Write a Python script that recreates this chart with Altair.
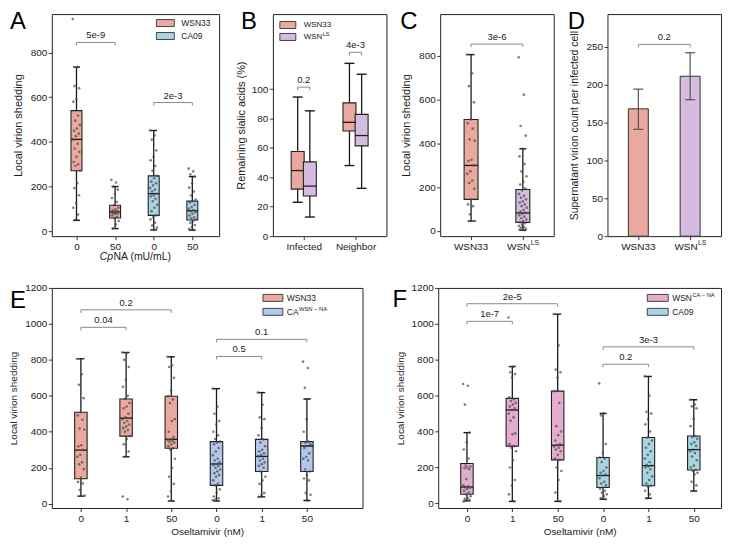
import json
import altair as alt
import pandas as pd

FONT = "Liberation Sans"
INK = "#1a1a1a"
COL = {"WSN33": "#E9A99E", "CA09": "#A9D4E4", "WSNLS": "#D6BBE0",
       "CAWSN": "#B4C7EB", "WSNCA": "#E5ADCD"}

# ---------------- Panel A ----------------
A_labels = ["0", "50", "0", "50"]
A_series = ["WSN33", "WSN33", "CA09", "CA09"]
A_lo = [49, 12, 6, 5]
A_q1 = [271, 59, 71, 50]
A_med = [411, 87, 168, 92]
A_q3 = [540, 116, 248, 135]
A_hi = [735, 200, 451, 245]
A_wsn_0 = [950, 735, 650, 640, 592, 580, 518, 495, 476, 460, 450, 437, 425, 411, 392,
           370, 355, 333, 310, 300, 293, 271, 215, 193, 161, 127, 105, 75, 49]
A_wsn_50 = [230, 218, 200, 186, 168, 149, 131, 116, 105, 98, 94, 90, 87, 85, 83, 82,
            80, 78, 72, 65, 59, 46, 31, 12]
A_ca_0 = [451, 429, 410, 362, 333, 318, 292, 271, 248, 237, 222, 215, 205, 193, 186,
          178, 168, 160, 156, 145, 134, 119, 105, 90, 71, 62, 53, 38, 26, 16, 6]
A_ca_50 = [280, 268, 255, 245, 215, 195, 178, 160, 142, 135, 128, 118, 108, 100, 95,
           90, 85, 78, 70, 62, 58, 52, 45, 38, 28, 18, 10, 5]
A_sig_from = [0, 2]
A_sig_to = [1, 3]
A_sig_y = [845, 576]
A_sig_text = ["5e-9", "2e-3"]

# ---------------- Panel B ----------------
B_groups = ["Infected", "Neighbor"]
B_wsn_lo = [23, 48]
B_wsn_q1 = [32, 71.5]
B_wsn_med = [44.6, 77.4]
B_wsn_q3 = [57.6, 90.6]
B_wsn_hi = [94.6, 117.5]
B_ls_lo = [13, 32.5]
B_ls_q1 = [27.3, 61.4]
B_ls_med = [34, 68.4]
B_ls_q3 = [50.5, 82.8]
B_ls_hi = [85.2, 110.1]
B_sig_y = [101.3, 125]
B_sig_text = ["0.2", "4e-3"]

# ---------------- Panel C ----------------
C_labels = ["WSN33", "WSN"]
C_sup = ["", "LS"]
C_lo = [45, 3]
C_q1 = [144, 39]
C_med = [299, 82]
C_q3 = [509, 189]
C_hi = [805, 375]
C_wsn = [805, 720, 661, 587, 509, 491, 467, 418, 412, 325, 319, 299, 272, 261, 230,
         219, 192, 144, 121, 113, 76, 45]
C_ls = [793, 622, 479, 435, 375, 340, 305, 272, 249, 224, 212, 195, 185, 169, 160, 151,
        144, 135, 129, 121, 113, 106, 95, 88, 82, 78, 71, 65, 58, 52, 45, 39, 35, 29,
        23, 18, 15, 10, 8, 5, 3]
C_sig_y = [853]
C_sig_text = ["3e-6"]

# ---------------- Panel D ----------------
D_vals = [168, 211]
D_err_lo = [141, 180]
D_err_hi = [194, 242]
D_sig_y = [253]
D_sig_text = ["0.2"]

# ---------------- Panel E ----------------
E_labels = ["0", "1", "50", "0", "1", "50"]
E_series = ["WSN33"] * 3 + ["CAWSN"] * 3
E_lo = [42, 261, 15, 15, 38, 18]
E_q1 = [139, 376, 308, 102, 179, 179]
E_med = [298, 476, 358, 221, 263, 321]
E_q3 = [509, 582, 598, 345, 358, 345]
E_hi = [806, 841, 817, 640, 618, 582]
E_wsn_0 = [805, 720, 661, 587, 509, 491, 467, 418, 412, 325, 319, 299, 272, 261, 230,
           219, 192, 144, 121, 113, 76, 45]
E_wsn_1 = [841, 838, 800, 760, 690, 650, 600, 582, 560, 540, 530, 500, 480, 470, 460,
           450, 440, 430, 420, 410, 400, 376, 360, 330, 290, 261, 40, 25]
E_wsn_50 = [817, 770, 760, 700, 630, 598, 580, 560, 470, 460, 400, 370, 358, 355, 350,
            345, 340, 330, 320, 308, 300, 250, 200, 150, 110, 70, 40, 15]
E_ca_0 = [640, 540, 500, 460, 440, 400, 380, 360, 345, 340, 330, 310, 290, 270, 250, 240,
          230, 221, 215, 210, 200, 190, 180, 170, 160, 150, 130, 110, 102, 80, 60, 40,
          30, 25, 20, 15]
E_ca_1 = [618, 550, 480, 470, 420, 380, 358, 340, 320, 300, 290, 280, 270, 263, 250, 240,
          230, 220, 210, 200, 179, 150, 130, 110, 60, 50, 38]
E_ca_50 = [790, 755, 645, 582, 470, 400, 345, 340, 330, 321, 310, 280, 260, 250, 240, 190,
           179, 160, 140, 130, 60, 50, 18]
E_sig_from = [0, 0, 3, 3]
E_sig_to = [1, 2, 4, 5]
E_sig_y = [981, 1078, 819, 914]
E_sig_text = ["0.04", "0.2", "0.5", "0.1"]

# ---------------- Panel F ----------------
F_labels = ["0", "1", "50", "0", "1", "50"]
F_series = ["WSNCA"] * 3 + ["CA09"] * 3
F_lo = [14, 11, 11, 23, 28, 69]
F_q1 = [51, 319, 242, 88, 98, 186]
F_med = [91, 520, 324, 155, 210, 299]
F_q3 = [222, 585, 625, 255, 367, 375]
F_hi = [394, 762, 1054, 501, 707, 577]
F_wsnca_0 = [665, 655, 550, 394, 340, 300, 250, 210, 205, 200, 195, 190, 135, 100, 95, 90,
             85, 80, 70, 60, 51, 40, 30, 25, 20, 15, 10]
F_wsnca_1 = [1035, 762, 730, 720, 700, 590, 580, 570, 560, 550, 540, 530, 520, 500, 480,
             460, 390, 385, 330, 319, 310, 290, 240, 200, 130, 100, 50, 11]
F_wsnca_50 = [1054, 880, 745, 730, 700, 625, 560, 430, 400, 380, 350, 330, 324, 315, 310,
              300, 290, 270, 250, 242, 200, 180, 130, 60, 11]
F_ca_0 = [668, 501, 490, 330, 280, 255, 250, 230, 200, 180, 170, 160, 155, 140, 120, 110,
          100, 88, 80, 70, 60, 50, 40, 30, 23]
F_ca_1 = [707, 600, 510, 500, 470, 440, 400, 367, 350, 330, 310, 290, 270, 250, 230, 215,
          210, 205, 200, 190, 170, 150, 130, 110, 98, 90, 70, 50, 28]
F_ca_50 = [577, 550, 540, 530, 470, 430, 375, 370, 360, 340, 330, 320, 299, 290, 280, 260,
           240, 210, 200, 186, 180, 170, 160, 120, 100, 69]
F_sig_from = [0, 0, 3, 3]
F_sig_to = [1, 2, 4, 5]
F_sig_y = [1014, 1112, 775, 872]
F_sig_text = ["1e-7", "2e-5", "0.2", "3e-3"]

# ---------------- helpers ----------------
ONE = pd.DataFrame({"k": [0]})
AW = {"W": 944, "S": 667, "N": 722, "C": 722, "A": 667, "L": 556, " ": 278,
      "\u2212": 584, "-": 333}


def tw(s, fs):
    return sum(AW.get(c, 556) for c in s) / 1000.0 * fs


def txt(s, x, y, fs, align="left", baseline="middle", style=None, color=INK):
    kw = dict(text=s, fontSize=fs, align=align, baseline=baseline, font=FONT, color=color)
    if style:
        kw["fontStyle"] = style
    return alt.Chart(ONE).mark_text(**kw).encode(x=alt.value(x), y=alt.value(y))


def legend(entries, rx0, rx1, tx, ys, fs=8.5):
    layers = []
    for (base, sup, col), cy in zip(entries, ys):
        layers.append(alt.Chart(ONE).mark_rect(fill=col, stroke="#333", strokeWidth=0.9).encode(
            x=alt.value(rx0), x2=alt.value(rx1), y=alt.value(cy - 3.5), y2=alt.value(cy + 3.5)))
        layers.append(txt(base, tx, cy, fs))
        if sup:
            layers.append(txt(sup, tx + tw(base, fs) + 0.5, cy - 3.2, fs * 0.68))
    return layers


def sig_layers(X, Y, x1, x2, yv, labels, drop):
    df = pd.DataFrame({"x1": x1, "x2": x2, "y": yv, "lab": labels})
    df["yd"] = df["y"] - drop
    df["xm"] = (df["x1"] + df["x2"]) / 2
    base = alt.Chart(df)
    st = dict(color="#8a8a8a", strokeWidth=1)
    return [
        base.mark_rule(**st).encode(x=X("x1"), x2="x2:Q", y=Y("y")),
        base.mark_rule(**st).encode(x=X("x1"), y=Y("y"), y2="yd:Q"),
        base.mark_rule(**st).encode(x=X("x2"), y=Y("y"), y2="yd:Q"),
        base.mark_text(fontSize=9.5, dy=-4, baseline="alphabetic", color=INK, font=FONT).encode(
            x=X("xm"), y=Y("y"), text="lab:N"),
    ]


def scales(W, H, xdom, ydom, tick_vals, tick_labels, yvals, ytitle, xtitle, xlabels,
           lab_fs, tit_fs, ytitle_pad):
    xs = alt.Scale(domain=xdom, nice=False, zero=False)
    ys = alt.Scale(domain=ydom, nice=False, zero=False)
    xa_kw = dict(values=tick_vals, labelExpr=json.dumps(tick_labels) + "[datum.value]",
                 labels=xlabels, labelFontSize=lab_fs, titleFontSize=tit_fs,
                 labelPadding=2, titlePadding=3, title=xtitle)
    xa = alt.Axis(**xa_kw)
    ya = alt.Axis(values=yvals, format="d", title=ytitle, labelFontSize=lab_fs,
                  titleFontSize=tit_fs, labelPadding=1.5, titlePadding=ytitle_pad)

    def X(f):
        return alt.X(f, type="quantitative", scale=xs, axis=xa)

    def Y(f):
        return alt.Y(f, type="quantitative", scale=ys, axis=ya)
    return X, Y


def box_layers(X, Y, positions, series, lo, q1, med, q3, hi, box_w, cap_w, pts, jit):
    bdf = pd.DataFrame({"pos": positions, "lo": lo, "q1": q1, "med": med, "q3": q3,
                        "hi": hi, "col": [COL[s] for s in series]})
    b = alt.Chart(bdf)
    layers = [
        b.mark_rule(color=INK, strokeWidth=1.3).encode(x=X("pos"), y=Y("lo"), y2="hi:Q"),
        b.mark_tick(orient="horizontal", size=cap_w, thickness=1.4, color=INK, opacity=1).encode(
            x=X("pos"), y=Y("lo")),
        b.mark_tick(orient="horizontal", size=cap_w, thickness=1.4, color=INK, opacity=1).encode(
            x=X("pos"), y=Y("hi")),
        b.mark_bar(size=box_w, orient="vertical", stroke="#222", strokeWidth=1.1, opacity=1).encode(
            x=X("pos"), y=Y("q1"), y2="q3:Q", color=alt.Color("col:N", scale=None)),
        b.mark_tick(orient="horizontal", size=box_w, thickness=1.3, color=INK, opacity=1).encode(
            x=X("pos"), y=Y("med")),
    ]
    if pts:
        rows = []
        for g, p in enumerate(pts):
            for i, v in enumerate(p):
                rows.append({"pos": positions[g], "i": i, "v": v})
        pdf = pd.DataFrame(rows)
        layers.append(alt.Chart(pdf).transform_calculate(
            jx=f"datum.pos + ((datum.i * 0.618034) % 1 - 0.5) * {jit}"
        ).mark_circle(size=7, color="#4a4a4a", opacity=0.7).encode(x=X("jx"), y=Y("v")))
    return layers


def sup_xlabels(X, H, labels, sups, fs):
    layers = []
    for k, (base, sup) in enumerate(zip(labels, sups)):
        d = pd.DataFrame({"pos": [k]})
        ws = tw(sup, fs * 0.68) if sup else 0.0
        wb = tw(base, fs)
        layers.append(alt.Chart(d).mark_text(text=base, fontSize=fs, align="center",
                                             baseline="top", dx=-ws / 2, font=FONT, color=INK)
                      .encode(x=X("pos"), y=alt.value(H + 5.5)))
        if sup:
            layers.append(alt.Chart(d).mark_text(text=sup, fontSize=fs * 0.68, align="left",
                                                 baseline="top", dx=wb / 2 - ws / 2 + 0.5,
                                                 font=FONT, color=INK)
                          .encode(x=X("pos"), y=alt.value(H + 3.5)))
    return layers


H_TOP = 223
H_BOT = 221
W_A, W_B, W_C, W_D = 168, 114, 114, 114
W_E, W_F = 312, 284
LAB_T, TIT_T = 10, 11
LAB_B, TIT_B = 10, 10

# ---------------- build A ----------------
A_xdom = [-0.51, 3.565]
A_ydom = [-22, 972]
X, Y = scales(W_A, H_TOP, A_xdom, A_ydom, [0, 1, 2, 3], A_labels, [0, 200, 400, 600, 800],
              "Local virion shedding", None, True, LAB_T, TIT_T, 7)
upx = W_A / (A_xdom[1] - A_xdom[0])
A_layers = box_layers(X, Y, [0, 1, 2, 3], A_series, A_lo, A_q1, A_med, A_q3, A_hi, 11, 7,
                      [A_wsn_0, A_wsn_50, A_ca_0, A_ca_50], 8 / upx)
A_layers += sig_layers(X, Y, A_sig_from, A_sig_to, A_sig_y, A_sig_text,
                       3 * (A_ydom[1] - A_ydom[0]) / H_TOP)
A_layers += legend([("WSN33", "", COL["WSN33"]), ("CA09", "", COL["CA09"])],
                   W_A - 63, W_A - 45, W_A - 38, [9, 22])
cx = W_A / 2 - (tw("Cp", 10.5) + tw("NA (mU/mL)", 10.5)) / 2
A_layers += [txt("Cp", cx, H_TOP + 21, 10.5, style="italic"),
             txt("NA (mU/mL)", cx + tw("Cp", 10.5) + 0.5, H_TOP + 21, 10.5)]
A_layers.append(txt("A", -42, -4, 24, baseline="top", color="black"))
panelA = alt.layer(*A_layers).properties(width=W_A, height=H_TOP)

# ---------------- build B ----------------
B_xdom = [-0.5, 1.5]
B_ydom = [0, 151]
X, Y = scales(W_B, H_TOP, B_xdom, B_ydom, [0, 1], B_groups, [0, 20, 40, 60, 80, 100],
              "Remaining sialic acids (%)", None, True, LAB_T, TIT_T, 5)
off = 6.7 / (W_B / (B_xdom[1] - B_xdom[0]))
B_pos, B_ser, B_lo, B_q1, B_med, B_q3, B_hi = [], [], [], [], [], [], []
for g in range(len(B_groups)):
    for s, sgn, lo_, q1_, md_, q3_, hi_ in [
            ("WSN33", -1, B_wsn_lo, B_wsn_q1, B_wsn_med, B_wsn_q3, B_wsn_hi),
            ("WSNLS", 1, B_ls_lo, B_ls_q1, B_ls_med, B_ls_q3, B_ls_hi)]:
        B_pos.append(g + sgn * off)
        B_ser.append(s)
        B_lo.append(lo_[g]); B_q1.append(q1_[g]); B_med.append(md_[g])
        B_q3.append(q3_[g]); B_hi.append(hi_[g])
B_layers = box_layers(X, Y, B_pos, B_ser, B_lo, B_q1, B_med, B_q3, B_hi, 13, 10, None, 0)
B_layers += sig_layers(X, Y, [B_pos[0], B_pos[2]], [B_pos[1], B_pos[3]], B_sig_y, B_sig_text,
                       3 * (B_ydom[1] - B_ydom[0]) / H_TOP)
B_layers += legend([("WSN33", "", COL["WSN33"]), ("WSN", "LS", COL["WSNLS"])],
                   7, 23, 31, [11, 23], fs=8)
B_layers.append(txt("B", -32, -4, 24, baseline="top", color="black"))
panelB = alt.layer(*B_layers).properties(width=W_B, height=H_TOP)

# ---------------- build C ----------------
C_xdom = [-0.5, 1.5]
C_ydom = [-24, 990]
X, Y = scales(W_C, H_TOP, C_xdom, C_ydom, [0, 1], C_labels, [0, 200, 400, 600, 800],
              "Local virion shedding", None, False, LAB_T, TIT_T, 7)
upx = W_C / (C_xdom[1] - C_xdom[0])
C_layers = box_layers(X, Y, [0, 1], ["WSN33", "WSNLS"], C_lo, C_q1, C_med, C_q3, C_hi, 14, 7,
                      [C_wsn, C_ls], 9 / upx)
C_layers += sig_layers(X, Y, [0], [1], C_sig_y, C_sig_text, 3 * (C_ydom[1] - C_ydom[0]) / H_TOP)
C_layers += sup_xlabels(X, H_TOP, C_labels, C_sup, LAB_T)
C_layers.append(txt("C", -40, -4, 24, baseline="top", color="black"))
panelC = alt.layer(*C_layers).properties(width=W_C, height=H_TOP)

# ---------------- build D ----------------
D_xdom = [-0.5, 1.5]
D_ydom = [0, 293]
X, Y = scales(W_D, H_TOP, D_xdom, D_ydom, [0, 1], C_labels, [0, 50, 100, 150, 200, 250],
              "Supernatant virion count per infected cell", None, False, LAB_T, 10.5, 6)
ddf = pd.DataFrame({"pos": [0, 1], "v": D_vals, "lo": D_err_lo, "hi": D_err_hi,
                    "col": [COL["WSN33"], COL["WSNLS"]]})
db = alt.Chart(ddf)
D_layers = [
    db.mark_bar(size=20, orient="vertical", stroke="#333", strokeWidth=1).encode(
        x=X("pos"), y=Y("v"), y2=alt.datum(0), color=alt.Color("col:N", scale=None)),
    db.mark_rule(color="#555", strokeWidth=1.2).encode(x=X("pos"), y=Y("lo"), y2="hi:Q"),
    db.mark_tick(orient="horizontal", size=10, thickness=1.2, color="#555", opacity=1).encode(
        x=X("pos"), y=Y("lo")),
    db.mark_tick(orient="horizontal", size=10, thickness=1.2, color="#555", opacity=1).encode(
        x=X("pos"), y=Y("hi")),
]
D_layers += sig_layers(X, Y, [0], [1], D_sig_y, D_sig_text, 3 * (D_ydom[1] - D_ydom[0]) / H_TOP)
D_layers += sup_xlabels(X, H_TOP, C_labels, C_sup, LAB_T)
D_layers.append(txt("D", -40, -4, 24, baseline="top", color="black"))
panelD = alt.layer(*D_layers).properties(width=W_D, height=H_TOP)

# ---------------- build E ----------------
E_xdom = [-0.533, 6.12]
E_ydom = [-24, 1200]
X, Y = scales(W_E, H_BOT, E_xdom, E_ydom, list(range(6)), E_labels,
              [0, 200, 400, 600, 800, 1000, 1200], "Local virion shedding",
              "Oseltamivir (nM)", True, LAB_B, TIT_B, 6)
upx = W_E / (E_xdom[1] - E_xdom[0])
E_layers = box_layers(X, Y, list(range(6)), E_series, E_lo, E_q1, E_med, E_q3, E_hi, 12.5, 7,
                      [E_wsn_0, E_wsn_1, E_wsn_50, E_ca_0, E_ca_1, E_ca_50], 8 / upx)
E_layers += sig_layers(X, Y, E_sig_from, E_sig_to, E_sig_y, E_sig_text,
                       3 * (E_ydom[1] - E_ydom[0]) / H_BOT)
E_layers += legend([("WSN33", "", COL["WSN33"]), ("CA", "WSN \u2212 NA", COL["CAWSN"])],
                   W_E - 100, W_E - 80, W_E - 76, [10, 24])
E_layers.append(txt("E", -42, 1, 24, baseline="top", color="black"))
panelE = alt.layer(*E_layers).properties(width=W_E, height=H_BOT)

# ---------------- build F ----------------
F_xdom = [-0.524, 5.49]
F_ydom = [-26, 1200]
X, Y = scales(W_F, H_BOT, F_xdom, F_ydom, list(range(6)), F_labels,
              [0, 200, 400, 600, 800, 1000, 1200], "Local virion shedding",
              "Oseltamivir (nM)", True, LAB_B, TIT_B, 6)
upx = W_F / (F_xdom[1] - F_xdom[0])
F_layers = box_layers(X, Y, list(range(6)), F_series, F_lo, F_q1, F_med, F_q3, F_hi, 12.5, 7,
                      [F_wsnca_0, F_wsnca_1, F_wsnca_50, F_ca_0, F_ca_1, F_ca_50], 8 / upx)
F_layers += sig_layers(X, Y, F_sig_from, F_sig_to, F_sig_y, F_sig_text,
                       3 * (F_ydom[1] - F_ydom[0]) / H_BOT)
F_layers += legend([("WSN", "CA \u2212 NA", COL["WSNCA"]), ("CA09", "", COL["CA09"])],
                   W_F - 74, W_F - 53, W_F - 49, [10, 24])
F_layers.append(txt("F", -46, 0, 24, baseline="top", color="black"))
panelF = alt.layer(*F_layers).properties(width=W_F, height=H_BOT)

top = alt.hconcat(panelA, panelB, panelC, panelD, spacing=54, bounds="flush")
bottom = alt.hconcat(panelE, panelF, spacing=76, bounds="flush")
chart = alt.vconcat(top, bottom, spacing=19, bounds="full").properties(
    padding=0
).configure_view(stroke="#222", strokeWidth=1).configure_axis(
    domain=False, grid=False, tickColor="#222", tickSize=3.5, tickWidth=0.9,
    labelColor=INK, titleColor=INK, labelFont=FONT, titleFont=FONT,
    titleFontWeight="normal"
)

chart.save("out.html", embed_options={"renderer": "svg", "actions": False})
